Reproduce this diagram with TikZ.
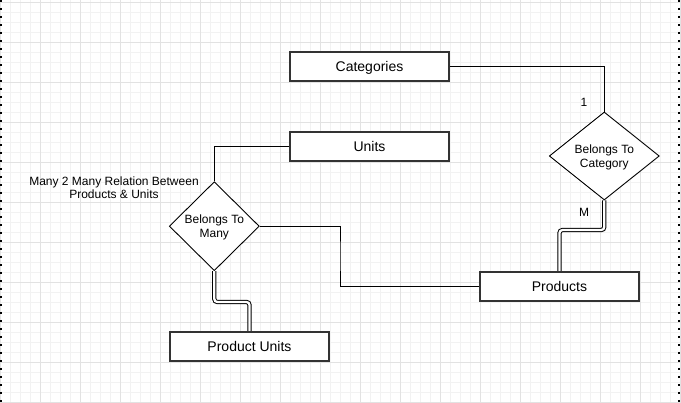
\documentclass[tikz,border=0pt]{standalone}
\usepackage{fontspec}
\setmainfont{Liberation Sans}
\usetikzlibrary{shapes.geometric}
\definecolor{gridmaj}{HTML}{E2E2E2}
\definecolor{gridmin}{HTML}{F2F2F2}
\definecolor{boxline}{HTML}{333333}
\tikzset{
	entity/.style={draw=boxline, line width=2pt, fill=white, minimum width=159pt, minimum height=29pt, inner sep=0pt, text height=10.6pt, text depth=0pt, font=\fontsize{14}{16}\selectfont},
	relation/.style={draw, line width=0.9pt, fill=white, diamond, inner sep=0pt, align=center, text depth=0pt, font=\fontsize{12}{13.5}\selectfont},
	link/.style={line width=1pt},
	dlink/.style={line width=1pt, double, double distance=2.3pt, rounded corners=3pt},
	card/.style={font=\fontsize{12}{14}\selectfont}
}
\begin{document}
\begin{tikzpicture}[x=1pt, y=-1pt]
	\def \w{681}
	\def \h{403}
	\useasboundingbox (0, 0) rectangle (\w, \h);
	\fill[white] (0, 0) rectangle (\w, \h);
	% grid
	\foreach \x in {0,10,...,680}
	{ \draw[gridmin, line width=0.8pt] (\x, 0) -- (\x, \h); }
	\foreach \y in {2,12,...,402}
	{ \draw[gridmin, line width=0.8pt] (0, \y) -- (\w, \y); }
	\foreach \x in {0,40,...,680}
	{ \draw[gridmaj, line width=0.8pt] (\x, 0) -- (\x, \h); }
	\foreach \y in {2,42,...,402}
	{ \draw[gridmaj, line width=0.8pt] (0, \y) -- (\w, \y); }
	% page breaks
	\draw[line width=1.6pt, dash pattern=on 1.6pt off 6.4pt] (1.2, 0) -- (1.2, \h);
	\draw[line width=1.6pt, dash pattern=on 1.6pt off 6.4pt] (679.2, 0) -- (679.2, \h);

	\node[entity] (cat) at (369.5, 66.5) {Categories};
	\node[entity] (units) at (369.5, 146.5) {Units};
	\node[entity] (prod) at (559.5, 286.5) {Products};
	\node[entity] (produnits) at (249.5, 346.5) {Product Units};
	\node[relation, minimum width=110pt, minimum height=88pt] (bcat) at (604.3, 156) {Belongs To\\Category};
	\node[relation, minimum width=90pt, minimum height=89pt] (bmany) at (214.3, 226.2) {Belongs To\\Many};
	\node[align=center, font=\fontsize{12}{13}\selectfont] (note) at (114, 187.5) {Many 2 Many Relation Between\\Products \& Units};

	\coordinate (bend1) at (340, 256);
	\coordinate (bend2) at (230, 302);
	\coordinate (bend3) at (580, 230);
	\draw[link] (cat.east) -| (bcat.north);
	\draw[link] (units.west) -| (bmany.north);
	\draw[link] (bmany.east) -| (bend1) |- (prod.west);
	\draw[dlink] (bmany.south) |- (bend2) -| (produnits.north);
	\draw[dlink] (bcat.south) |- (bend3) -| (prod.north);
	\node[card] (one) at (584, 102) {1};
	\node[card] (many) at (584, 212) {M};
\end{tikzpicture}
\end{document}
